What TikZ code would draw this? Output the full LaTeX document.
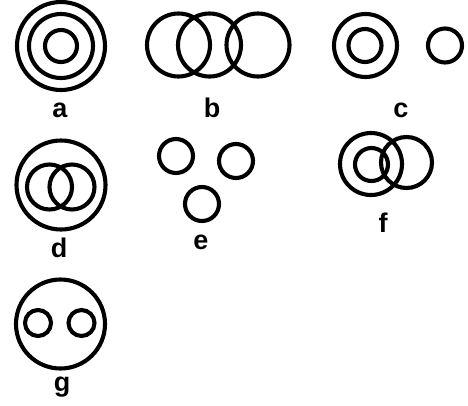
\documentclass[tikz,border=0pt]{standalone}
\usepackage{fontspec}
\setmainfont{Liberation Sans}
\usetikzlibrary{positioning}

\tikzset{
    ring/.style={draw, line width=4.1pt},
    lbl/.style={font=\bfseries\fontsize{27}{27}\selectfont, inner sep=0pt, anchor=base}
}

\begin{document}
\begin{tikzpicture}[x=1pt, y=-1pt]
    \useasboundingbox (0,0) rectangle (468,405);

    % a
    \foreach \r in {44, 32, 16}
        \draw [ring] (61,46) circle (\r);
    \node [lbl] (la) at (60,117) {a};

    % b
    \foreach \cx in {178.5, 209.5, 258}
        \draw [ring] (\cx,45) circle (31.5);
    \node [lbl] (lb) at (212,117) {b};

    % c
    \draw [ring] (365.5,45.5) circle (31.5);
    \draw [ring] (365,45.5) circle (16.5);
    \draw [ring] (445,45.5) circle (17);
    \node [lbl] (lc) at (401,117.5) {c};

    % d
    \draw [ring] (61,185) circle (44.5);
    \foreach \cx in {49.5, 72}
        \draw [ring] (\cx,187) circle (22.5);
    \node [lbl] (ld) at (59,257) {d};

    % e
    \draw [ring] (176,156) circle (17);
    \draw [ring] (236,161) circle (17);
    \draw [ring] (202,204) circle (17);
    \node [lbl] (le) at (201,249) {e};

    % f
    \draw [ring] (371,164) circle (31);
    \draw [ring] (371.5,164.5) circle (16.5);
    \draw [ring] (406.5,162.5) circle (25.5);
    \node [lbl] (lf) at (383,232) {f};

    % g
    \draw [ring] (60.5,324) circle (44.5);
    \foreach \cx in {38, 81.5}
        \draw [ring] (\cx,323) circle (13);
    \node [lbl] (lg) at (62,391) {g};
\end{tikzpicture}
\end{document}
